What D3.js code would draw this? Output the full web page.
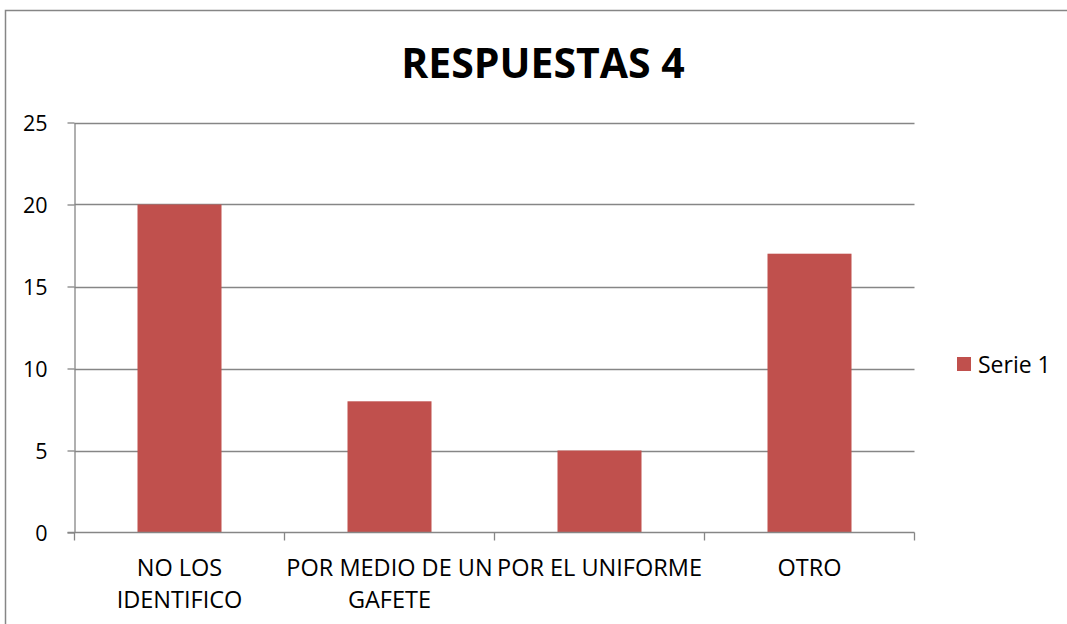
<!DOCTYPE html>
<html><head><meta charset="utf-8">
<script src="https://cdn.jsdelivr.net/npm/d3@7"></script>
<style>body{margin:0;background:#fff}svg{display:block}text{font-family:"Open Sans",sans-serif;fill:#000}</style>
</head><body>
<svg id="c" width="1067" height="624"></svg>
<script>
const categories = [["NO LOS","IDENTIFICO"],["POR MEDIO DE UN","GAFETE"],["POR EL UNIFORME"],["OTRO"]];
const categoryNames = ["NO LOS IDENTIFICO","POR MEDIO DE UN GAFETE","POR EL UNIFORME","OTRO"];
const values = [20, 8, 5, 17];
const yTicks = [0, 5, 10, 15, 20, 25];
const seriesName = "Serie 1";
const title = "RESPUESTAS 4";

const svg = d3.select("#c");
const color = "#C0504D";
const grid = "#868686";
const L = 74.5, R = 914.5, T = 122.5, B = 532.5;

svg.append("rect").attr("x",5.5).attr("y",10.5).attr("width",1200).attr("height",800)
  .attr("fill","none").attr("stroke",grid).attr("stroke-width",1.5);

const x = d3.scaleBand().domain(categoryNames).range([L,R]).paddingInner(0.6).paddingOuter(0.3);
const y = d3.scaleLinear().domain([0,25]).range([B,T]);

// gridlines
svg.append("g").selectAll("line").data(yTicks.filter(d=>d>0)).join("line")
  .attr("x1",L).attr("x2",R).attr("y1",d=>Math.round(y(d))+0.5).attr("y2",d=>Math.round(y(d))+0.5)
  .attr("stroke",grid).attr("stroke-width",1.3);

// bars
svg.append("g").selectAll("rect").data(values).join("rect")
  .attr("x",(d,i)=>x(categoryNames[i])).attr("width",x.bandwidth())
  .attr("y",d=>y(d)).attr("height",d=>B-y(d)).attr("fill",color);

// y axis
const ya = svg.append("g").attr("transform",`translate(${L},0)`)
  .call(d3.axisLeft(y).tickValues(yTicks).tickSize(7).tickPadding(20).tickSizeOuter(0));
ya.attr("font-size",null).attr("font-family",null);
ya.select(".domain").attr("stroke",grid).attr("stroke-width",1.3);
ya.selectAll(".tick line").attr("stroke",grid).attr("stroke-width",1.3);
ya.selectAll(".tick text").style("font-size","21.5px").attr("fill","#000").attr("dy","0.35em");

// x axis
const xa = svg.append("g").attr("transform",`translate(0,${B})`);
xa.append("line").attr("x1",L-7).attr("x2",R).attr("y1",0).attr("y2",0).attr("stroke",grid).attr("stroke-width",1.3);
const step = x.step();
const bounds = d3.range(categoryNames.length+1).map(i=>L+i*step);
xa.selectAll("line.t").data(bounds).join("line").attr("class","t")
  .attr("x1",d=>d).attr("x2",d=>d).attr("y1",0).attr("y2",8).attr("stroke",grid).attr("stroke-width",1.3);
categories.forEach((lines,i)=>{
  const cx = x(categoryNames[i]) + x.bandwidth()/2;
  const t = xa.append("text").attr("text-anchor","middle").style("font-size","23.5px");
  lines.forEach((ln,j)=>t.append("tspan").attr("x",cx).attr("y",43+j*32).text(ln));
});

// title
svg.append("text").attr("x",543).attr("y",78).attr("text-anchor","middle")
  .style("font-size","41px").attr("font-weight","bold").text(title);

// legend
svg.append("rect").attr("x",957).attr("y",357).attr("width",14).attr("height",14).attr("fill",color);
svg.append("text").attr("x",978).attr("y",373).style("font-size","23px").text(seriesName);
</script>
</body></html>
